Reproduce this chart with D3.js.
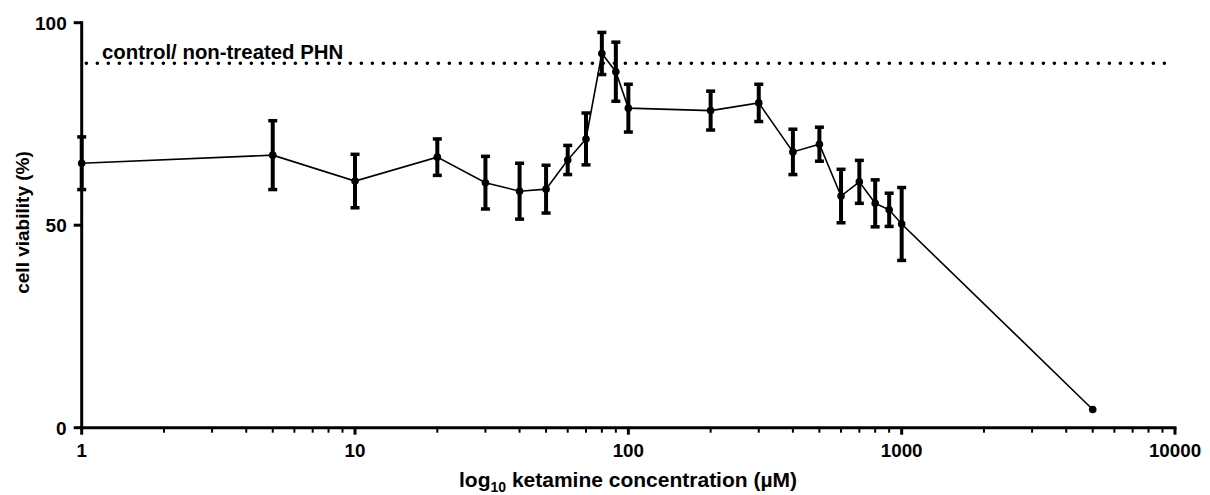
<!DOCTYPE html>
<html>
<head>
<meta charset="utf-8">
<script src="https://cdn.jsdelivr.net/npm/d3@7"></script>
<style>
  html, body { margin: 0; padding: 0; background: #fff; }
  svg { display: block; }
  text { font-family: "Liberation Sans", Arial, sans-serif; font-weight: bold; fill: #000; }
</style>
</head>
<body>
<svg id="chart" width="1210" height="495"></svg>
<script>
// Ketamine concentration (µM)
const concentrations = [1, 5, 10, 20, 30, 40, 50, 60, 70, 80, 90, 100, 200, 300, 400, 500, 600, 700, 800, 900, 1000, 5000];
// Mean cell viability (%)
const viability = [65.3, 67.3, 60.9, 66.8, 60.5, 58.4, 58.9, 66.1, 71.3, 92.4, 87.9, 78.9, 78.3, 80.2, 68.1, 70.0, 57.2, 60.7, 55.4, 53.8, 50.3, 4.5];
// Standard deviation (%)
const viabilitySD = [6.5, 8.5, 6.6, 4.5, 6.5, 6.9, 5.9, 3.6, 6.4, 5.2, 7.3, 5.9, 4.8, 4.6, 5.6, 4.2, 6.6, 5.3, 5.8, 4.1, 9.0, 0];
// Untreated control level (%)
const controlLevel = [90];
const xTicks = [1, 10, 100, 1000, 10000];
const yTicks = [0, 50, 100];

const svg = d3.select("#chart");

const x = d3.scaleLog().domain([1, 10000]).range([81.7, 1175]);
const y = d3.scaleLinear().domain([0, 100]).range([427.7, 22.7]);

// Control reference line (dotted)
svg.append("line")
  .attr("x1", x(1.04)).attr("x2", x(9700))
  .attr("y1", y(controlLevel[0])).attr("y2", y(controlLevel[0]))
  .attr("stroke", "#000").attr("stroke-width", 3.6)
  .attr("stroke-linecap", "round")
  .attr("stroke-dasharray", "0 11");

svg.append("text")
  .attr("x", 102).attr("y", 59)
  .attr("font-size", 20.4)
  .text("control/ non-treated PHN");

// Axes
const xAxis = svg.append("g").attr("transform", `translate(0,${y(0)})`);
xAxis.append("line")
  .attr("x1", x(1) - 1.5).attr("x2", x(10000) + 1.5)
  .attr("stroke", "#000").attr("stroke-width", 3);

const minorTicks = [];
for (let d = 1; d < 10000; d *= 10) {
  for (let k = 2; k <= 9; k++) minorTicks.push(d * k);
}
xAxis.selectAll(".minor").data(minorTicks).join("line")
  .attr("x1", d => x(d)).attr("x2", d => x(d))
  .attr("y1", 0).attr("y2", 5)
  .attr("stroke", "#000").attr("stroke-width", 2);
xAxis.selectAll(".major").data(xTicks).join("line")
  .attr("x1", d => x(d)).attr("x2", d => x(d))
  .attr("y1", 0).attr("y2", 7)
  .attr("stroke", "#000").attr("stroke-width", 3);
xAxis.selectAll(".xlabel").data(xTicks).join("text")
  .attr("x", d => x(d)).attr("y", 29)
  .attr("text-anchor", "middle")
  .attr("font-size", 18.8)
  .text(d => d3.format("d")(d));

const yAxis = svg.append("g").attr("transform", `translate(${x(1)},0)`);
yAxis.append("line")
  .attr("y1", y(100) - 1.5).attr("y2", y(0) + 1.5)
  .attr("stroke", "#000").attr("stroke-width", 3);
yAxis.selectAll(".ytick").data(yTicks).join("line")
  .attr("x1", -8).attr("x2", 0)
  .attr("y1", d => y(d)).attr("y2", d => y(d))
  .attr("stroke", "#000").attr("stroke-width", 3);
yAxis.selectAll(".ylabel").data(yTicks).join("text")
  .attr("x", -15).attr("y", d => y(d))
  .attr("dy", "0.36em")
  .attr("text-anchor", "end")
  .attr("font-size", 19)
  .text(d => d);

// Axis titles
const xt = svg.append("text")
  .attr("x", 628).attr("y", 487)
  .attr("text-anchor", "middle")
  .attr("font-size", 21);
xt.append("tspan").text("log");
xt.append("tspan").attr("font-size", 14).attr("dy", 5).text("10");
xt.append("tspan").attr("dy", -5).text(" ketamine concentration (µM)");

svg.append("text")
  .attr("transform", `translate(28.5,222.5) rotate(-90)`)
  .attr("text-anchor", "middle")
  .attr("font-size", 19)
  .text("cell viability (%)");

// Data
const data = concentrations.map((c, i) => ({ c, v: viability[i], sd: viabilitySD[i] }));

svg.append("path")
  .datum(data)
  .attr("fill", "none").attr("stroke", "#000").attr("stroke-width", 1.6)
  .attr("d", d3.line().x(d => x(d.c)).y(d => y(d.v)));

const bars = svg.append("g").selectAll("g").data(data.filter(d => d.sd > 0)).join("g");
bars.append("line")
  .attr("x1", d => x(d.c)).attr("x2", d => x(d.c))
  .attr("y1", d => y(d.v + d.sd)).attr("y2", d => y(d.v - d.sd))
  .attr("stroke", "#000").attr("stroke-width", 4);
bars.append("line")
  .attr("x1", d => x(d.c) - 4.5).attr("x2", d => x(d.c) + 4.5)
  .attr("y1", d => y(d.v + d.sd)).attr("y2", d => y(d.v + d.sd))
  .attr("stroke", "#000").attr("stroke-width", 3.5);
bars.append("line")
  .attr("x1", d => x(d.c) - 4.5).attr("x2", d => x(d.c) + 4.5)
  .attr("y1", d => y(d.v - d.sd)).attr("y2", d => y(d.v - d.sd))
  .attr("stroke", "#000").attr("stroke-width", 3.5);

svg.append("g").selectAll("circle").data(data).join("circle")
  .attr("cx", d => x(d.c)).attr("cy", d => y(d.v))
  .attr("r", 3.8).attr("fill", "#000");
</script>
</body>
</html>
